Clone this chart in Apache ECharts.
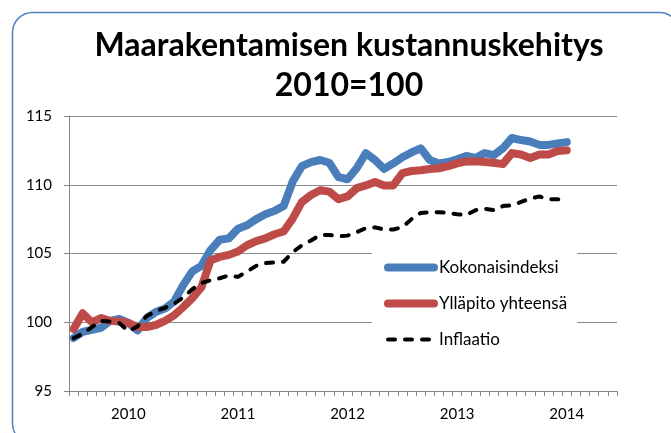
<!DOCTYPE html>
<html><head><meta charset="utf-8">
<script src="https://cdn.jsdelivr.net/npm/echarts@6/dist/echarts.min.js"></script>
<style>html,body{margin:0;padding:0;background:#fff}#c{width:671px;height:433px}</style>
</head><body><div id="c"></div>
<script>
const years = ['2010', '2011', '2012', '2013', '2014'];
const monthNames = ['01','02','03','04','05','06','07','08','09','10','11','12'];
const categories = [];
years.forEach(y => monthNames.forEach(m => categories.push(y + '-' + m)));

const kokonaisindeksi = [
  98.85, 99.3, 99.45, 99.6, 100.1, 100.25, 99.95, 99.4, 100.3, 100.75, 101.0, 101.5,
  102.7, 103.7, 104.1, 105.25, 106.0, 106.1, 106.8, 107.05, 107.5, 107.85, 108.1, 108.45,
  110.25, 111.35, 111.65, 111.8, 111.6, 110.55, 110.4, 111.2, 112.3, 111.8, 111.15, 111.55,
  112.0, 112.35, 112.65, 111.8, 111.55, 111.65, 111.85, 112.1, 111.95, 112.3, 112.15, 112.65,
  113.4, 113.25, 113.15, 112.9, 112.9, 113.0, 113.1
];
const yllapito = [
  99.5, 100.65, 100.0, 100.3, 100.1, 100.05, 99.95, 99.65, 99.65, 99.8, 100.1, 100.5,
  101.1, 101.75, 102.55, 104.5, 104.75, 104.9, 105.15, 105.6, 105.9, 106.1, 106.4, 106.6,
  107.55, 108.75, 109.25, 109.6, 109.5, 108.95, 109.15, 109.75, 109.95, 110.2, 109.95, 109.95,
  110.85, 111.0, 111.05, 111.15, 111.2, 111.35, 111.55, 111.7, 111.7, 111.65, 111.6, 111.5,
  112.3, 112.2, 111.95, 112.2, 112.2, 112.45, 112.5
];
const inflaatio = [
  98.85, 99.15, 99.65, 100.1, 100.05, 99.95, 99.35, 99.7, 100.45, 100.8, 101.05, 101.35,
  101.8, 102.4, 102.85, 103.05, 103.2, 103.4, 103.3, 103.7, 104.1, 104.3, 104.35, 104.4,
  105.1, 105.6, 105.95, 106.35, 106.35, 106.25, 106.3, 106.55, 106.85, 106.9, 106.75, 106.75,
  106.9, 107.5, 107.95, 108.0, 108.0, 107.95, 107.85, 107.8, 108.15, 108.25, 108.15, 108.45,
  108.5, 108.75, 109.0, 109.15, 108.95, 108.95, 108.8
];
const seriesNames = ['Kokonaisindeksi', 'Ylläpito yhteensä', 'Inflaatio'];
const yTicks = {min: 95, max: 115, step: 5};

const FONT = 'Lato';
const chart = echarts.init(document.getElementById('c'));
chart.setOption({
  backgroundColor: '#fff',
  animation: false,
  title: {
    text: 'Maarakentamisen kustannuskehitys\n2010=100',
    left: 349, top: 26, padding: 0, textAlign: 'center',
    textStyle: {fontFamily: FONT, fontWeight: 'bold', fontSize: 32, lineHeight: 40, color: '#000'}
  },
  graphic: [{
    type: 'rect', silent: true, z: -10,
    shape: {x: 12.5, y: 12.5, width: 667, height: 431, r: 20},
    style: {fill: 'none', stroke: '#4F81BD', lineWidth: 1.5}
  }],
  grid: {left: 69, right: 54, top: 116, bottom: 42},
  xAxis: {
    type: 'category', data: categories, boundaryGap: true,
    axisLine: {lineStyle: {color: '#868686', width: 1}},
    axisTick: {show: true, interval: 0, length: 5, lineStyle: {color: '#868686'}},
    axisLabel: {
      interval: (i) => i % 12 === 6,
      formatter: (v, i) => years[Math.floor(i / 12)],
      color: '#000', fontFamily: FONT, fontSize: 15, margin: 16
    },
    splitLine: {show: false}
  },
  yAxis: {
    type: 'value', min: yTicks.min, max: yTicks.max, interval: yTicks.step,
    axisLine: {show: true, lineStyle: {color: '#868686', width: 1}},
    axisTick: {show: true, length: 5, lineStyle: {color: '#868686'}},
    axisLabel: {color: '#000', fontFamily: FONT, fontSize: 15, margin: 17},
    splitLine: {lineStyle: {color: '#8c8c8c', width: 1}}
  },
  legend: {
    orient: 'vertical', left: 372, top: 251,
    padding: [8, 10, 8, 12], backgroundColor: '#fff',
    itemWidth: 46, itemHeight: 14, itemGap: 19,
    itemStyle: {opacity: 0},
    lineStyle: {width: 'inherit'},
    textStyle: {fontFamily: FONT, fontSize: 17, color: '#000', padding: [0, 0, 0, 0]},
    data: seriesNames
  },
  series: [
    {name: seriesNames[0], type: 'line', data: kokonaisindeksi, symbol: 'none', z: 2,
     lineStyle: {color: '#4A7EBB', width: 8, cap: 'round', join: 'round'}, itemStyle: {color: '#4A7EBB'}},
    {name: seriesNames[1], type: 'line', data: yllapito, symbol: 'none', z: 3,
     lineStyle: {color: '#BE4B48', width: 8, cap: 'round', join: 'round'}, itemStyle: {color: '#BE4B48'}},
    {name: seriesNames[2], type: 'line', data: inflaatio, symbol: 'none', z: 4,
     lineStyle: {color: '#000', width: 4, type: [7, 10], cap: 'round', join: 'round'}, itemStyle: {color: '#000'}}
  ]
});
</script></body></html>
